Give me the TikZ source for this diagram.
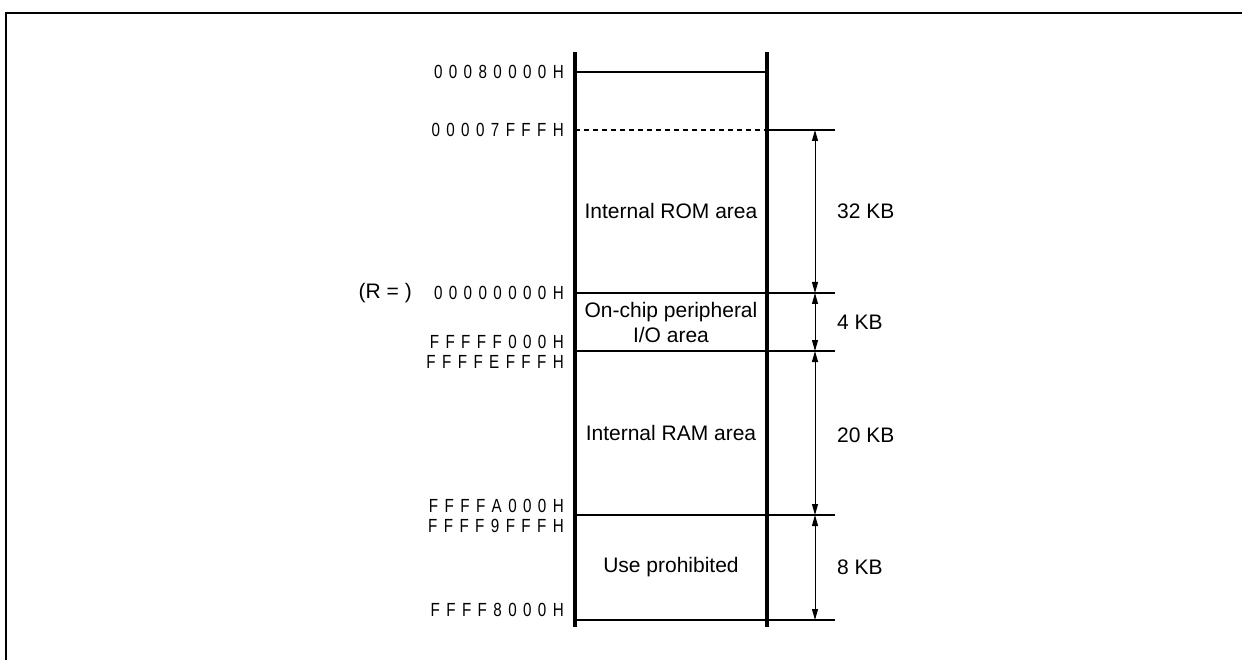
\documentclass[tikz,border=0pt]{standalone}
\usepackage{fontspec}
\setmainfont{Liberation Sans}
\newfontfamily\addrfont[FakeStretch=0.8]{Liberation Sans}
\usetikzlibrary{arrows.meta}
\ExplSyntaxOn
\NewDocumentCommand\spacedaddr{m}{\tl_map_inline:nn{#1}{##1\hspace{6.4pt}}\unskip}
\ExplSyntaxOff

\begin{document}
\begin{tikzpicture}[
  x=1pt, y=-1pt,
  addr/.style={anchor=east, inner sep=0pt, font=\addrfont\fontsize{19}{22}\selectfont},
  area/.style={align=center, inner sep=0pt, font=\fontsize{21}{25}\selectfont},
  sizelabel/.style={anchor=west, inner sep=0pt, font=\fontsize{21}{25}\selectfont},
  wall/.style={line width=3.4pt},
  bound/.style={line width=1.2pt},
  dimline/.style={{Triangle[length=11pt,width=6pt]}-{Triangle[length=11pt,width=6pt]}, line width=1pt}
]
  \useasboundingbox (0,0) rectangle (1242,660);

  % Frame
  \draw[line width=2.6pt] (6,660) -- (6,13) -- (1242,13);

  % Walls of the map
  \coordinate (wallL-top) at (575,52);
  \coordinate (wallL-bot) at (575,627);
  \coordinate (wallR-top) at (767,52);
  \coordinate (wallR-bot) at (767,627);
  \draw[wall] (wallL-top) -- (wallL-bot);
  \draw[wall] (wallR-top) -- (wallR-bot);

  % Boundaries
  \coordinate (end-l) at (575,72);
  \coordinate (end-r) at (767,72);
  \foreach \name/\y in {rom/130, io/293, ram/351, nu/515, bot/620} {
    \coordinate (\name-l) at (575,\y);
    \coordinate (\name-r) at (767,\y);
    \coordinate (\name-d) at (815,\y);
    \coordinate (\name-e) at (835,\y);
  }
  \draw[bound] (end-l) -- (end-r);
  \draw[bound, dash pattern=on 5pt off 4pt] (rom-l) -- (rom-r);
  \draw[bound] (rom-r) -- (rom-e);
  \draw[bound] (io-l) -- (io-e);
  \draw[bound] (ram-l) -- (ram-e);
  \draw[bound] (nu-l) -- (nu-e);
  \draw[bound] (bot-l) -- (bot-e);

  % Sizes
  \draw[dimline] (rom-d) -- (io-d);
  \draw[dimline] (io-d) -- (ram-d);
  \draw[dimline] (ram-d) -- (nu-d);
  \draw[dimline] (nu-d) -- (bot-d);
  \node[sizelabel] (s32) at (837,211) {32 KB};
  \node[sizelabel] (s4) at (837,322) {4 KB};
  \node[sizelabel] (s20) at (837,435) {20 KB};
  \node[sizelabel] (s8) at (837,567) {8 KB};

  % Areas
  \node[area] (rom) at (671,211) {Internal ROM area};
  \node[area] (io) at (671,322) {On-chip peripheral\\I/O area};
  \node[area] (ram) at (671,433) {Internal RAM area};
  \node[area] (nu) at (671,567) {Use prohibited};

  % Addresses
  \node[addr] (a1) at (564,72) {\spacedaddr{00080000H}};
  \node[addr] (a2) at (564,130) {\spacedaddr{00007FFFH}};
  \node[addr] (a3) at (564,293) {\spacedaddr{00000000H}};
  \node[addr] (a4) at (564,342) {\spacedaddr{FFFFF000H}};
  \node[addr] (a5) at (564,362) {\spacedaddr{FFFFEFFFH}};
  \node[addr] (a6) at (564,506) {\spacedaddr{FFFFA000H}};
  \node[addr] (a7) at (564,526) {\spacedaddr{FFFF9FFFH}};
  \node[addr] (a8) at (564,610) {\spacedaddr{FFFF8000H}};
  \node[area, anchor=east] (rnote) at (412,293) {(R = )};
\end{tikzpicture}
\end{document}
